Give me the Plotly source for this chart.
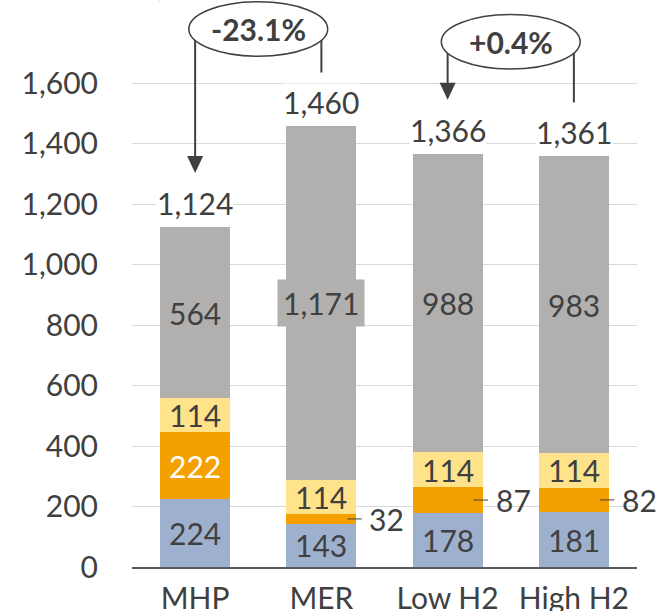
import plotly.graph_objects as go

# Stacked components per scenario
categories = ["MHP", "MER", "Low H2", "High H2"]
blue_vals = [224, 143, 178, 181]
orange_vals = [222, 32, 87, 82]
yellow_vals = [114, 114, 114, 114]
gray_vals = [564, 1171, 988, 983]
totals = [1124, 1460, 1366, 1361]

y_ticks = [0, 200, 400, 600, 800, 1000, 1200, 1400, 1600]

# Change brackets: (from index, to index, label, label height)
changes = [(1, 0, "-23.1%", 1780), (3, 2, "+0.4%", 1738)]

unit_label = "(kt CO2e)"

colors = ["#9DB0CD", "#F4A000", "#FFE38B", "#B1B0AF"]
text_color = "#404040"
FONT = "Lato"
FS = 30

series = [blue_vals, orange_vals, yellow_vals, gray_vals]
x_idx = list(range(len(categories)))

fig = go.Figure()
for vals, col in zip(series, colors):
    fig.add_trace(go.Bar(
        x=x_idx, y=vals, marker=dict(color=col, line=dict(width=0)),
        width=0.555, showlegend=False, hoverinfo="skip",
    ))

annotations = []
shapes = []

# Segment labels
bases = [0] * len(categories)
for s, (vals, col) in enumerate(zip(series, colors)):
    for i, v in enumerate(vals):
        mid = bases[i] + v / 2
        if v < 100:
            # small slice: label outside with a short leader line
            shapes.append(dict(type="line", xref="x", yref="y",
                               x0=i + 0.205, x1=i + 0.32, y0=mid, y1=mid,
                               line=dict(color=text_color, width=1)))
            annotations.append(dict(x=i + 0.365, y=mid, xref="x", yref="y",
                                    text=str(v), showarrow=False, xanchor="left",
                                    font=dict(family=FONT, size=FS, color=text_color)))
        else:
            fc = "white" if (s == 1) else text_color
            # wide labels get a box in the slice colour so they read over gridlines
            box = col if v >= 1000 else None
            annotations.append(dict(x=i, y=mid, xref="x", yref="y",
                                    text=f"{v:,}", showarrow=False,
                                    bgcolor=box, borderpad=5,
                                    font=dict(family=FONT, size=FS, color=fc)))
        bases[i] += v

# Totals above bars
for i, t in enumerate(totals):
    annotations.append(dict(x=i, y=t, xref="x", yref="y", text=f"{t:,}",
                            showarrow=False, yanchor="bottom", yshift=5,
                            bgcolor="white", borderpad=0,
                            font=dict(family=FONT, size=FS, color=text_color)))

# Change brackets with ellipse labels
gap = 180
rx, ry = 0.55, 90
for src, dst, label, yc in changes:
    cx = (src + dst) / 2
    # line on the source side
    shapes.append(dict(type="line", xref="x", yref="y", x0=src, x1=src,
                       y0=yc, y1=totals[src] + gap - 4,
                       line=dict(color=text_color, width=2)))
    # arrow line on the destination side
    shapes.append(dict(type="line", xref="x", yref="y", x0=dst, x1=dst,
                       y0=yc, y1=totals[dst] + gap + 20,
                       line=dict(color=text_color, width=2)))
    shapes.append(dict(type="path", xref="x", yref="y",
                       xsizemode="pixel", ysizemode="pixel",
                       xanchor=dst, yanchor=totals[dst] + gap,
                       path="M-8,17 L8,17 L0,0 Z",
                       fillcolor=text_color, line=dict(width=0)))
    shapes.append(dict(type="circle", xref="x", yref="y",
                       x0=cx - rx, x1=cx + rx, y0=yc - ry, y1=yc + ry,
                       fillcolor="white", line=dict(color=text_color, width=1.5)))
    annotations.append(dict(x=cx, y=yc, xref="x", yref="y", text=f"<b>{label}</b>",
                            showarrow=False,
                            font=dict(family=FONT, size=FS, color=text_color)))

annotations.append(dict(x=0.04, y=1, xref="paper", yref="paper", text=unit_label,
                        showarrow=False, yanchor="bottom", yshift=-4,
                        font=dict(family=FONT, size=FS, color=text_color)))

fig.update_layout(
    width=659, height=611,
    margin=dict(l=132, r=22, t=0, b=44),
    paper_bgcolor="white", plot_bgcolor="white",
    barmode="stack", bargap=0.45,
    font=dict(family=FONT, size=FS, color=text_color),
    annotations=annotations, shapes=shapes,
    xaxis=dict(tickmode="array", tickvals=x_idx, ticktext=categories,
               range=[-0.5, 3.5], showline=True, linecolor="#595959", linewidth=1.5,
               showgrid=False, ticks="", ticklabelstandoff=4, automargin=False,
               tickfont=dict(family=FONT, size=FS, color=text_color)),
    yaxis=dict(range=[0, 1876], tickvals=y_ticks, tickformat=",",
               showgrid=True, gridcolor="#D9D9D9", gridwidth=1, automargin=False,
               zeroline=False, showline=False, ticks="", ticklabelstandoff=33,
               tickfont=dict(family=FONT, size=FS, color=text_color)),
)

fig.write_html("out.html")
